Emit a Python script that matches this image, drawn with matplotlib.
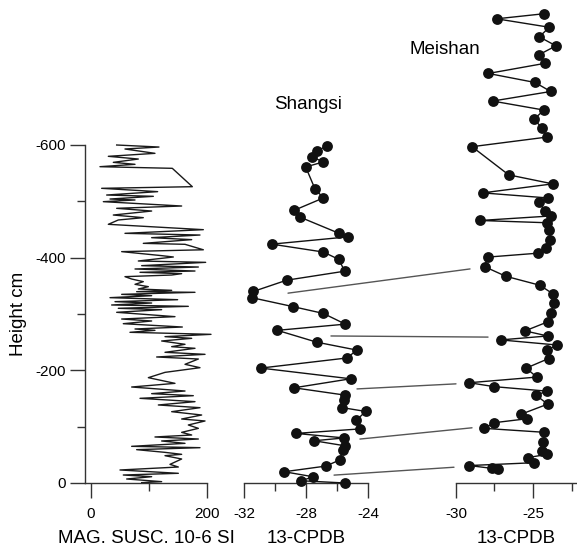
import matplotlib
matplotlib.use('Agg')
from matplotlib import pyplot as plt
from matplotlib.patches import ConnectionPatch
from matplotlib.ticker import MultipleLocator

plt.rcParams['font.family'] = ['Liberation Sans', 'DejaVu Sans']
plt.rcParams['axes.unicode_minus'] = False

# magnetic susceptibility, Shangsi (value 10-6 SI, height cm)
mag_susc = [44.3, 117.2, 58.6, 110.3, 29.9, 81.6, 38.5, 75.9, 15.5, 140.2,
            174.7, 18.4, 114.9, 27.0, 107.5, 32.8, 75.9, 21.3, 156.3, 44.3,
            104.6, 38.5, 90.2, 47.1, 29.9, 193.7, 58.6, 187.9, 104.6, 173.6,
            90.2, 162.1, 193.7, 52.9, 121.8, 142.0, 81.6, 197.7, 87.4, 185.1,
            75.9, 179.3, 84.5, 156.3, 139.1, 58.6, 70.1, 90.2, 75.9, 98.9,
            81.6, 139.1, 78.7, 179.3, 52.9, 104.6, 32.8, 149.4, 41.4, 104.6,
            35.6, 167.8, 47.1, 121.8, 44.3, 144.8, 52.9, 104.6, 55.7, 157.5,
            75.9, 110.3, 67.2, 206.9, 127.6, 173.6, 121.8, 162.1, 139.1, 179.3,
            127.6, 196.6, 113.2, 185.1, 162.1, 187.9, 127.6, 98.9, 144.8, 70.1,
            162.1, 104.6, 176.4, 84.5, 179.3, 116.1, 187.9, 139.1, 190.8, 156.3,
            196.6, 167.8, 185.1, 156.3, 173.6, 110.3, 185.1, 121.8, 162.1, 70.1,
            187.9, 78.7, 127.6, 156.3, 127.6, 156.3, 136.2, 150.6, 50.0, 150.6,
            55.7, 104.6, 61.5, 121.8, 87.4]
mag_height = [-600.0, -596.4, -592.9, -585.2, -579.9, -575.1, -569.2, -565.7, -561.5, -558.6,
              -526.0, -523.1, -517.2, -511.2, -508.9, -504.1, -502.4, -499.4, -491.7, -487.6,
              -482.8, -475.7, -471.0, -466.9, -459.2, -449.7, -443.2, -440.2, -435.5, -432.0,
              -425.4, -423.7, -414.0, -410.7, -403.6, -401.2, -394.1, -391.7, -385.8, -383.4,
              -379.9, -376.3, -374.0, -371.6, -369.2, -366.3, -362.1, -357.4, -352.7, -348.5,
              -344.4, -342.0, -339.6, -338.5, -334.9, -332.5, -329.0, -325.4, -321.9, -319.5,
              -316.0, -313.6, -310.1, -307.7, -303.0, -295.3, -291.1, -287.6, -282.8, -276.9,
              -273.4, -271.0, -267.5, -263.9, -259.8, -256.8, -252.1, -246.2, -242.0, -239.1,
              -232.0, -228.4, -223.7, -220.1, -210.7, -204.7, -196.4, -187.0, -176.9, -170.4,
              -163.3, -158.6, -155.0, -150.3, -144.4, -138.5, -133.7, -126.6, -120.7, -113.6,
              -110.1, -103.0, -97.0, -89.9, -85.2, -81.7, -78.1, -74.6, -70.4, -65.1,
              -62.7, -59.2, -54.4, -50.9, -48.5, -42.6, -33.1, -28.4, -23.1, -17.2,
              -14.2, -11.2, -7.1, -2.4, -0.6]

# Shangsi carbon isotopes
shangsi_c13 = [-26.66, -27.27, -27.63, -26.88, -28.02, -27.42, -26.88, -28.77, -28.39, -25.85,
               -25.27, -30.21, -26.88, -25.89, -25.50, -29.25, -31.40, -31.50, -28.82, -26.88,
               -25.46, -29.85, -27.31, -24.73, -25.34, -30.92, -25.12, -28.77, -25.48, -25.53,
               -25.70, -24.15, -24.77, -24.52, -28.65, -25.53, -27.48, -25.48, -25.63, -25.81,
               -26.73, -29.40, -27.53, -28.32, -25.48]
shangsi_height = [-599, -589, -579, -570, -561, -522, -506, -484, -472, -443,
                  -437, -424, -410, -397, -376, -360, -340, -329, -313, -301,
                  -282, -271, -250, -236, -222, -204, -185, -169, -156, -147,
                  -134, -127, -111, -96, -88, -80, -75, -66, -59, -41,
                  -30, -20, -11, -4, 0]

# Meishan carbon isotopes
meishan_c13 = [-24.29, -27.36, -23.94, -24.59, -23.51, -24.63, -24.22, -27.90, -24.87, -23.85,
               -27.62, -24.29, -24.92, -24.42, -24.11, -28.96, -26.58, -23.72, -28.27, -24.03,
               -24.59, -24.22, -23.85, -28.44, -24.11, -23.94, -23.87, -24.18, -24.66, -27.94,
               -28.14, -26.77, -24.55, -23.72, -23.64, -23.83, -24.05, -25.52, -24.05, -27.10,
               -23.46, -24.07, -23.98, -25.44, -24.76, -29.14, -27.51, -24.07, -24.81, -24.05,
               -25.78, -25.41, -27.53, -28.16, -24.27, -24.33, -24.42, -24.07, -25.34, -24.94,
               -29.14, -27.68, -27.25]
meishan_height = [-833, -824, -809, -792, -776, -760, -745, -727, -711, -695,
                  -678, -662, -646, -630, -614, -597, -547, -531, -515, -506,
                  -498, -482, -474, -466, -462, -449, -432, -418, -408, -401,
                  -384, -367, -351, -336, -319, -302, -286, -270, -261, -254,
                  -245, -236, -221, -204, -188, -178, -171, -163, -156, -140,
                  -122, -114, -107, -97, -90, -73, -57, -51, -45, -36,
                  -31, -26, -24]

# correlation ties: (Shangsi c13, Shangsi height) -> (Meishan c13, Meishan height)
tie_shangsi_c13 = [-29.16, -26.39, -24.71, -24.52, -26.19]
tie_shangsi_height = [-337, -261, -167, -78, -14]
tie_meishan_c13 = [-29.09, -27.92, -30.0, -28.96, -30.13]
tie_meishan_height = [-380, -259, -176, -98, -28]

W, H = 577, 548
fig = plt.figure(figsize=(W / 100, H / 100), dpi=100)


def px_rect(x0, x1, ytop, ybot):
    return [x0 / W, (H - ybot) / H, (x1 - x0) / W, (ybot - ytop) / H]


def style_axis(ax, xmajor, xminor):
    for s in ['top', 'right']:
        ax.spines[s].set_visible(False)
    ax.spines['bottom'].set_linewidth(1.0)
    ax.spines['bottom'].set_color('#333333')
    ax.xaxis.set_major_locator(MultipleLocator(xmajor))
    ax.xaxis.set_minor_locator(MultipleLocator(xminor))
    ax.tick_params(axis='x', which='major', direction='out', length=11, width=1.0,
                   color='#333333', labelsize=11, pad=6)
    ax.tick_params(axis='x', which='minor', direction='out', length=6, width=1.0,
                   color='#333333')
    ax.patch.set_visible(False)


# MAG SUSC panel
ax1 = fig.add_axes(px_rect(85, 207, 145, 483))
ax1.plot(mag_susc, mag_height, color='#1a1a1a', lw=1.0, clip_on=False)
ax1.set_xlim(-10.3, 200)
ax1.set_ylim(0, -600)
style_axis(ax1, 200, 100)
ax1.spines['left'].set_linewidth(1.0)
ax1.spines['left'].set_color('#333333')
ax1.yaxis.set_major_locator(MultipleLocator(200))
ax1.yaxis.set_minor_locator(MultipleLocator(100))
ax1.tick_params(axis='y', which='major', direction='out', length=11, width=1.0,
                color='#333333', labelsize=11, pad=3)
ax1.tick_params(axis='y', which='minor', direction='out', length=6, width=1.0,
                color='#333333')
ax1.set_ylabel('Height cm', fontsize=13.5, labelpad=6)
ax1.set_xlabel('MAG. SUSC. 10-6 SI', fontsize=13.5, labelpad=7)

# Shangsi panel
ax2 = fig.add_axes(px_rect(244, 368, 145, 483))
ax2.plot(shangsi_c13, shangsi_height, '-o', color='#111111', lw=1.0, ms=7.8,
         markeredgewidth=0, clip_on=False, zorder=3)
ax2.set_xlim(-32, -24)
ax2.set_ylim(0, -600)
style_axis(ax2, 4, 2)
ax2.spines['left'].set_visible(False)
ax2.set_yticks([])
ax2.set_xlabel('13-CPDB', fontsize=13.5, labelpad=7)
ax2.text(0.52, 1.12, 'Shangsi', transform=ax2.transAxes, fontsize=13.5,
         ha='center', va='center')

# Meishan panel
ax3 = fig.add_axes(px_rect(456, 576, 483 - 850 * 338 / 600, 483))
ax3.plot(meishan_c13, meishan_height, '-o', color='#111111', lw=1.0, ms=7.8,
         markeredgewidth=0, clip_on=False, zorder=3)
ax3.set_xlim(-30, -30 + 120 / 15.4)
ax3.set_ylim(0, -850)
style_axis(ax3, 5, 2.5)
ax3.spines['left'].set_visible(False)
ax3.set_yticks([])
ax3.set_xlabel('13-CPDB', fontsize=13.5, labelpad=7)
ax3.text(-0.09, 0.905, 'Meishan', transform=ax3.transAxes, fontsize=13.5,
         ha='center', va='center')

# tie lines
for sx, sh, mx, mh in zip(tie_shangsi_c13, tie_shangsi_height,
                          tie_meishan_c13, tie_meishan_height):
    con = ConnectionPatch(xyA=(sx, sh), coordsA=ax2.transData,
                          xyB=(mx, mh), coordsB=ax3.transData,
                          color='#555555', lw=1.0)
    fig.add_artist(con)

fig.savefig('out.png', dpi=100)
